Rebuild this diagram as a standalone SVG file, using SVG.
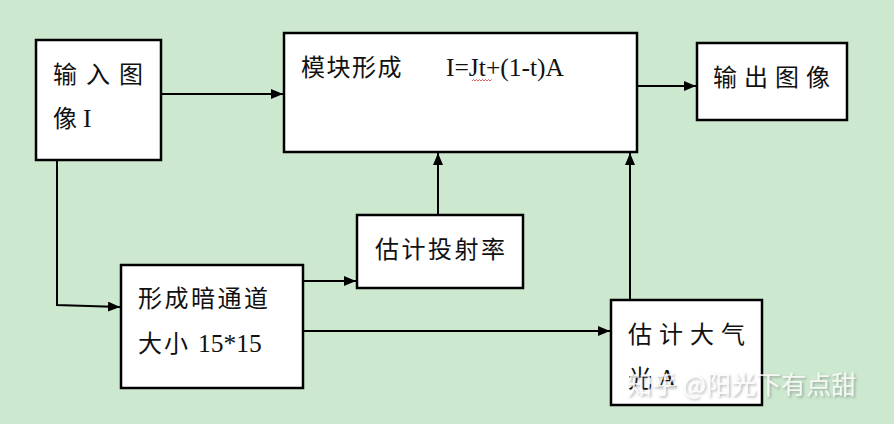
<svg xmlns="http://www.w3.org/2000/svg" width="894" height="424" viewBox="0 0 894 424">
<style>
.box{fill:#fff;stroke:#000;stroke-width:2.5}
.t{font-family:"Liberation Serif","Noto Sans CJK SC",serif;font-size:24px;fill:#111}
.l{font-size:25.5px}
.c{fill:none;stroke:#000;stroke-width:2}
.wm{font-family:"Noto Sans CJK SC",sans-serif;font-size:25px;fill:#fff;fill-opacity:0.8}
</style>
<defs>
<marker id="ah" markerWidth="12" markerHeight="10" refX="12" refY="5" orient="auto" markerUnits="userSpaceOnUse">
<path d="M0,0 L12,5 L0,10 Z" fill="#000"/>
</marker>
<filter id="sh" x="-5%" y="-20%" width="110%" height="140%">
<feDropShadow dx="1.5" dy="1.5" stdDeviation="0.8" flood-color="#444" flood-opacity="0.5"/>
</filter>
</defs>
<rect width="894" height="424" fill="#cce8cf"/>
<g id="connectors">
<line class="c" x1="161" y1="94" x2="283" y2="94" marker-end="url(#ah)"/>
<line class="c" x1="637" y1="86" x2="696" y2="86" marker-end="url(#ah)"/>
<line class="c" x1="438" y1="215" x2="438" y2="153" marker-end="url(#ah)"/>
<line class="c" x1="630" y1="300" x2="630" y2="153" marker-end="url(#ah)"/>
<polyline class="c" points="57,160 57,305 120,307" marker-end="url(#ah)"/>
<line class="c" x1="303" y1="281" x2="356" y2="281" marker-end="url(#ah)"/>
<line class="c" x1="303" y1="331" x2="610" y2="331" marker-end="url(#ah)"/>
</g>
<g id="input">
<rect class="box" x="36" y="40" width="125" height="120"/>
<text class="t" x="53" y="83" letter-spacing="9">输入图</text>
<text class="t" x="53" y="127">像 <tspan class="l">I</tspan></text>
</g>
<g id="module">
<rect class="box" x="284" y="33" width="353" height="119"/>
<text class="t" x="301" y="76" letter-spacing="1.5">模块形成</text>
<text class="t l" x="446" y="76">I=Jt+(1-t)A</text>
<path d="M472,81 l1.5,-1.5 l1.5,1.5 l1.5,-1.5 l1.5,1.5 l1.5,-1.5 l1.5,1.5 l1.5,-1.5 l1.5,1.5 l1.5,-1.5 l1.5,1.5 l1.5,-1.5 l1.5,1.5 l1.5,-1.5" fill="none" stroke="#d33" stroke-width="0.8"/>
</g>
<g id="output">
<rect class="box" x="697" y="43" width="150" height="77"/>
<text class="t" x="713" y="86" letter-spacing="7">输出图像</text>
</g>
<g id="transmission">
<rect class="box" x="357" y="215" width="166" height="73"/>
<text class="t" x="375" y="258" letter-spacing="2.5">估计投射率</text>
</g>
<g id="darkchannel">
<rect class="box" x="121" y="265" width="182" height="123"/>
<text class="t" x="138" y="307" letter-spacing="2.5">形成暗通道</text>
<text class="t" x="138" y="352" letter-spacing="2">大小 <tspan class="l" letter-spacing="0">15*15</tspan></text>
</g>
<g id="atmos">
<rect class="box" x="611" y="300" width="151" height="105"/>
<text class="t" x="628" y="343" letter-spacing="7">估计大气</text>
<text class="t" x="628" y="387">光 <tspan class="l">A</tspan></text>
</g>
<g id="watermark">
<text class="wm" x="627" y="394" filter="url(#sh)">知乎 @阳光下有点甜</text>
</g>
</svg>
